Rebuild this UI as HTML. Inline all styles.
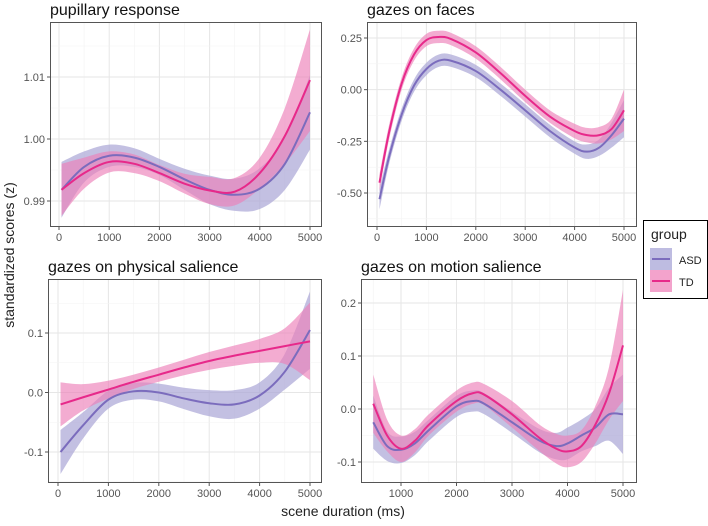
<!DOCTYPE html>
<html><head><meta charset="utf-8"><style>
body{margin:0;background:#fff;}
svg{display:block;font-family:"Liberation Sans",sans-serif;}
</style></head><body>
<svg id="chart" width="708" height="526" xmlns="http://www.w3.org/2000/svg">
<text x="343" y="516" font-size="14" text-anchor="middle" fill="#222">scene duration (ms)</text>
<text transform="translate(14,255) rotate(-90)" font-size="14" text-anchor="middle" fill="#222">standardized scores (z)</text>
<g>
<rect x="643.5" y="220.5" width="64" height="78" fill="#fff" stroke="#000" stroke-width="1"/>
<text x="651" y="239" font-size="14" fill="#222">group</text>
<g>
<rect x="650" y="248" width="22" height="22" fill="#b3b0dc" opacity="0.85"/>
<line x1="652" y1="259" x2="670" y2="259" stroke="#7b6cbd" stroke-width="2"/>
<text x="679" y="264" font-size="11" fill="#222">ASD</text></g>
<g>
<rect x="650" y="270" width="22" height="22" fill="#f3a3cc"/>
<line x1="652" y1="281" x2="670" y2="281" stroke="#e7298a" stroke-width="2"/>
<text x="679" y="286" font-size="11" fill="#222">TD</text></g>
</g>
</svg>
<script>
// pupillary response
const pupX = [50,500,1000,1500,2000,2500,3000,3500,4000,4500,5000];
const pupTD = [0.9918,0.9945,0.9963,0.9960,0.9945,0.9928,0.9917,0.9915,0.9945,1.0005,1.0095];
const pupTDse = [0.0042,0.0025,0.0017,0.0015,0.0013,0.0016,0.0022,0.0022,0.0025,0.0045,0.0082];
const pupASD = [0.9918,0.9955,0.9973,0.9970,0.9955,0.9935,0.9918,0.9910,0.9920,0.9960,1.0043];
const pupASDse = [0.0045,0.0025,0.0018,0.0015,0.0013,0.0017,0.0023,0.0026,0.0033,0.0042,0.0060];
const pupYTicks = [0.99,1.00,1.01];
const pupYLabels = ["0.99","1.00","1.01"];
// gazes on faces
const facX = [50,250,500,750,1000,1250,1500,2000,2500,3000,3500,4000,4250,4500,4750,5000];
const facTD = [-0.45,-0.2,0.03,0.17,0.24,0.255,0.245,0.18,0.08,-0.03,-0.13,-0.20,-0.22,-0.22,-0.19,-0.10];
const facTDse = [0.04,0.035,0.03,0.03,0.03,0.03,0.03,0.03,0.03,0.03,0.03,0.035,0.035,0.04,0.05,0.10];
const facASD = [-0.53,-0.32,-0.12,0.02,0.10,0.14,0.14,0.09,0.0,-0.10,-0.20,-0.28,-0.30,-0.28,-0.22,-0.14];
const facASDse = [0.05,0.035,0.03,0.03,0.03,0.03,0.03,0.03,0.03,0.03,0.03,0.03,0.035,0.04,0.06,0.09];
const facYTicks = [-0.5,-0.25,0,0.25];
const facYLabels = ["-0.50","-0.25","0.00","0.25"];
// gazes on physical salience
const phyX = [50,500,1000,1500,2000,2500,3000,3500,4000,4500,5000];
const phyTD = [-0.02,-0.008,0.005,0.018,0.03,0.042,0.053,0.062,0.07,0.078,0.086];
const phyTDse = [0.037,0.022,0.015,0.012,0.012,0.013,0.015,0.017,0.02,0.03,0.065];
const phyASD = [-0.10,-0.055,-0.012,0.002,0.0,-0.01,-0.018,-0.02,-0.005,0.035,0.105];
const phyASDse = [0.037,0.022,0.015,0.014,0.015,0.018,0.022,0.024,0.022,0.03,0.065];
const phyYTicks = [-0.1,0,0.1];
const phyYLabels = ["-0.1","0.0","0.1"];
// gazes on motion salience
const motX = [500,750,1000,1250,1500,2000,2300,2500,3000,3500,3800,4000,4250,4500,4750,5000];
const motTD = [0.01,-0.05,-0.075,-0.06,-0.03,0.015,0.03,0.027,-0.01,-0.055,-0.075,-0.08,-0.07,-0.03,0.03,0.12];
const motTDse = [0.055,0.03,0.025,0.022,0.02,0.02,0.02,0.02,0.025,0.025,0.028,0.03,0.03,0.035,0.05,0.105];
const motASD = [-0.025,-0.07,-0.077,-0.065,-0.04,0.005,0.015,0.01,-0.025,-0.06,-0.07,-0.065,-0.05,-0.035,-0.01,-0.01];
const motASDse = [0.05,0.028,0.025,0.022,0.02,0.02,0.02,0.02,0.02,0.022,0.025,0.03,0.03,0.035,0.05,0.075];
const motYTicks = [-0.1,0,0.1,0.2];
const motYLabels = ["-0.1","0.0","0.1","0.2"];
const xTicks = [0,1000,2000,3000,4000,5000];
const xLabels = ["0","1000","2000","3000","4000","5000"];

const NS="http://www.w3.org/2000/svg";
const svg=document.getElementById('chart');
function mk(tag,attrs,parent){const e=document.createElementNS(NS,tag);for(const k in attrs)e.setAttribute(k,attrs[k]);(parent||svg).appendChild(e);return e;}
// Catmull-Rom smooth path segment through points (array of [x,y])
function smooth(pts,start){
 let d=start?('M'+pts[0][0]+','+pts[0][1]):('L'+pts[0][0]+','+pts[0][1]);
 for(let i=0;i<pts.length-1;i++){
  const p0=pts[Math.max(0,i-1)],p1=pts[i],p2=pts[i+1],p3=pts[Math.min(pts.length-1,i+2)];
  const c1=[p1[0]+(p2[0]-p0[0])/6,p1[1]+(p2[1]-p0[1])/6];
  const c2=[p2[0]-(p3[0]-p1[0])/6,p2[1]-(p3[1]-p1[1])/6];
  d+='C'+c1[0]+','+c1[1]+' '+c2[0]+','+c2[1]+' '+p2[0]+','+p2[1];
 }
 return d;
}

const panels=[
 {name:'pupillary-response',title:'pupillary response',box:[50,22,322,227],x0:0,px0:59,x1:5000,px1:310,y0:0.99,py0:201,y1:1.01,py1:77,xs:pupX,td:pupTD,tdse:pupTDse,asd:pupASD,asdse:pupASDse,yt:pupYTicks,yl:pupYLabels,xt:xTicks,xl:xLabels,minorY:0.005},
 {name:'gazes-on-faces',title:'gazes on faces',box:[367,22,637,227],x0:0,px0:377,x1:5000,px1:624,y0:-0.5,py0:193,y1:0.25,py1:38,xs:facX,td:facTD,tdse:facTDse,asd:facASD,asdse:facASDse,yt:facYTicks,yl:facYLabels,xt:xTicks,xl:xLabels,minorY:0.125},
 {name:'gazes-on-physical-salience',title:'gazes on physical salience',box:[48,279,322,483],x0:0,px0:58,x1:5000,px1:310,y0:-0.1,py0:452,y1:0.1,py1:333,xs:phyX,td:phyTD,tdse:phyTDse,asd:phyASD,asdse:phyASDse,yt:phyYTicks,yl:phyYLabels,xt:xTicks,xl:xLabels,minorY:0.05},
 {name:'gazes-on-motion-salience',title:'gazes on motion salience',box:[361,279,637,483],x0:1000,px0:401,x1:5000,px1:623,y0:-0.1,py0:462,y1:0.2,py1:303,xs:motX,td:motTD,tdse:motTDse,asd:motASD,asdse:motASDse,yt:motYTicks,yl:motYLabels,xt:xTicks.slice(1),xl:xLabels.slice(1),minorY:0.05}
];

panels.forEach(p=>{
 const sx=v=>p.px0+(v-p.x0)*(p.px1-p.px0)/(p.x1-p.x0);
 const sy=v=>p.py0+(v-p.y0)*(p.py1-p.py0)/(p.y1-p.y0);
 const [L,T,R,B]=p.box;
 const g=mk('g',{});
 
 
 const t=mk('text',{x:L,y:T-7,'font-size':16,fill:'#111'},g);t.textContent=p.title;
 
 
 const clip=mk('clipPath',{id:'c-'+p.name},g);mk('rect',{x:L,y:T,width:R-L,height:B-T},clip);
 for(let v=-500;v<=5500;v+=500){const X=sx(v);if(X>L&&X<R){const major=v%1000===0;mk('line',{x1:X,x2:X,y1:T,y2:B,stroke:major?'#e6e6e6':'#f3f3f3','stroke-width':major?1:0.6},g);}}
 for(let v=p.y0-4*p.minorY;v<=p.y1+4*p.minorY+1e-9;v+=p.minorY){const Y=sy(v);if(Y>T&&Y<B){const major=p.yt.some(q=>Math.abs(q-v)<1e-9);mk('line',{x1:L,x2:R,y1:Y,y2:Y,stroke:major?'#e6e6e6':'#f3f3f3','stroke-width':major?1:0.6},g);}}
 const series=[['asd',p.asd,p.asdse,'#a9a5d6',0.7,'#7b6cbd'],['td',p.td,p.tdse,'#ec7fb8',0.65,'#e7298a']];
 series.forEach(([k,m,se,fc,op,lc])=>{
  const up=p.xs.map((x,i)=>[sx(x),sy(m[i]+se[i])]);
  const dn=p.xs.map((x,i)=>[sx(x),sy(m[i]-se[i])]).reverse();
  const band=mk('path',{d:smooth(up,true)+smooth(dn,false)+'Z',fill:fc,opacity:op,'clip-path':'url(#c-'+p.name+')'},g);
  
  
 });
 series.forEach(([k,m,se,fc,op,lc])=>{
  const pts=p.xs.map((x,i)=>[sx(x),sy(m[i])]);
  const ln=mk('path',{d:smooth(pts,true),fill:'none',stroke:lc,'stroke-width':2,'stroke-linejoin':'round','clip-path':'url(#c-'+p.name+')'},g);
  
  
 });
 mk('rect',{x:L+0.5,y:T+0.5,width:R-L-1,height:B-T-1,fill:'none',stroke:'#555','stroke-width':1},g);
 p.xt.forEach((v,i)=>{const X=sx(v);mk('line',{x1:X,x2:X,y1:B,y2:B+3,stroke:'#555'},g);
  const tx=mk('text',{x:X,y:B+14,'font-size':11,'text-anchor':'middle',fill:'#555'},g);tx.textContent=p.xl[i];
  
  });
 p.yt.forEach((v,i)=>{const Y=sy(v);mk('line',{x1:L-3,x2:L,y1:Y,y2:Y,stroke:'#555'},g);
  const ty=mk('text',{x:L-5,y:Y+4,'font-size':11,'text-anchor':'end',fill:'#555'},g);ty.textContent=p.yl[i];
  
  });
});
</script>
</body></html>
